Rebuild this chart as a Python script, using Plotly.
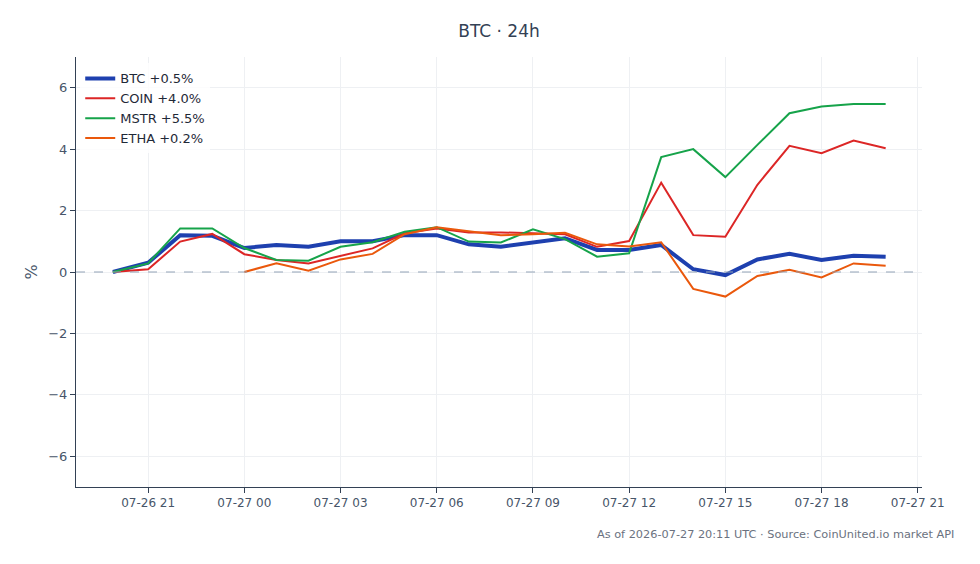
import plotly.graph_objects as go
import pandas as pd

times = [pd.Timestamp("2026-07-26 19:54")] + list(pd.date_range("2026-07-26 21:00", "2026-07-27 20:00", freq="h"))

btc = [0.0, 0.3, 1.2, 1.18, 0.78, 0.88, 0.82, 1.0, 1.0, 1.2, 1.2, 0.9, 0.82, 0.95, 1.1,
       0.72, 0.72, 0.88, 0.09, -0.1, 0.41, 0.59, 0.39, 0.53, 0.5]
coin = [0.0, 0.09, 0.99, 1.24, 0.58, 0.39, 0.28, 0.52, 0.77, 1.26, 1.42, 1.29, 1.29, 1.26, 1.23,
        0.82, 1.01, 2.91, 1.2, 1.15, 2.84, 4.11, 3.87, 4.28, 4.03]
mstr = [0.0, 0.28, 1.42, 1.42, 0.78, 0.39, 0.37, 0.82, 0.97, 1.31, 1.46, 0.99, 0.96, 1.39, 1.07,
        0.5, 0.61, 3.74, 4.0, 3.09, 4.14, 5.17, 5.39, 5.47, 5.47]
etha = [None, None, None, None, 0.0, 0.28, 0.04, 0.41, 0.59, 1.23, 1.46, 1.34, 1.2, 1.23, 1.28,
        0.9, 0.83, 0.97, -0.55, -0.8, -0.13, 0.07, -0.18, 0.28, 0.2]

names = ["BTC +0.5%", "COIN +4.0%", "MSTR +5.5%", "ETHA +0.2%"]
colors = ["#1e40af", "#dc2626", "#16a34a", "#ea580c"]
widths = [4, 2, 2, 2]
series = [btc, coin, mstr, etha]

fig = go.Figure()
for s, n, c, w in zip(series, names, colors, widths):
    fig.add_trace(go.Scatter(x=times, y=s, name=n, mode="lines",
                             line=dict(color=c, width=w), connectgaps=False))

fig.add_hline(y=0, line=dict(color="#94a3b8", width=1.2, dash="dash"))

font_family = "DejaVu Sans"
fig.update_layout(
    width=980, height=564,
    margin=dict(l=76, r=58, t=57, b=77),
    paper_bgcolor="white", plot_bgcolor="white",
    font=dict(family=font_family, size=13, color="#475569"),
    title=dict(text="BTC · 24h", x=0.5, xref="paper", xanchor="center",
               yref="container", y=1 - 31 / 564, yanchor="middle",
               font=dict(size=17, color="#334155")),
    showlegend=True,
    legend=dict(x=0.005, y=0.985, xanchor="left", yanchor="top", bgcolor="rgba(255,255,255,0.8)",
                font=dict(size=13, color="#1f2937"), tracegroupgap=0),
    annotations=[dict(text="As of 2026-07-27 20:11 UTC · Source: CoinUnited.io market API",
                      xref="paper", yref="paper", x=(956 - 76) / 846, y=(487 - 534) / 430,
                      xanchor="right", yanchor="middle",
                      showarrow=False, font=dict(size=11.3, color="#6b7280"))],
)
fig.update_xaxes(
    range=[pd.Timestamp("2026-07-26 18:45"), pd.Timestamp("2026-07-27 21:08")],
    dtick=3 * 3600 * 1000, tick0="2026-07-26 21:00", tickformat="%m-%d %H",
    showgrid=True, gridcolor="#eef0f3", showline=True, linecolor="#334155", linewidth=1,
    ticks="outside", tickcolor="#334155", ticklen=5, zeroline=False,
    tickfont=dict(size=12, color="#475569"),
)
fig.update_yaxes(
    range=[-7, 7], dtick=2, title=dict(text="%", standoff=6),
    showgrid=True, gridcolor="#eef0f3", showline=True, linecolor="#334155", linewidth=1,
    ticks="outside", tickcolor="#334155", ticklen=5, zeroline=False,
    tickfont=dict(size=13, color="#475569"),
)

fig.write_html("out.html")
